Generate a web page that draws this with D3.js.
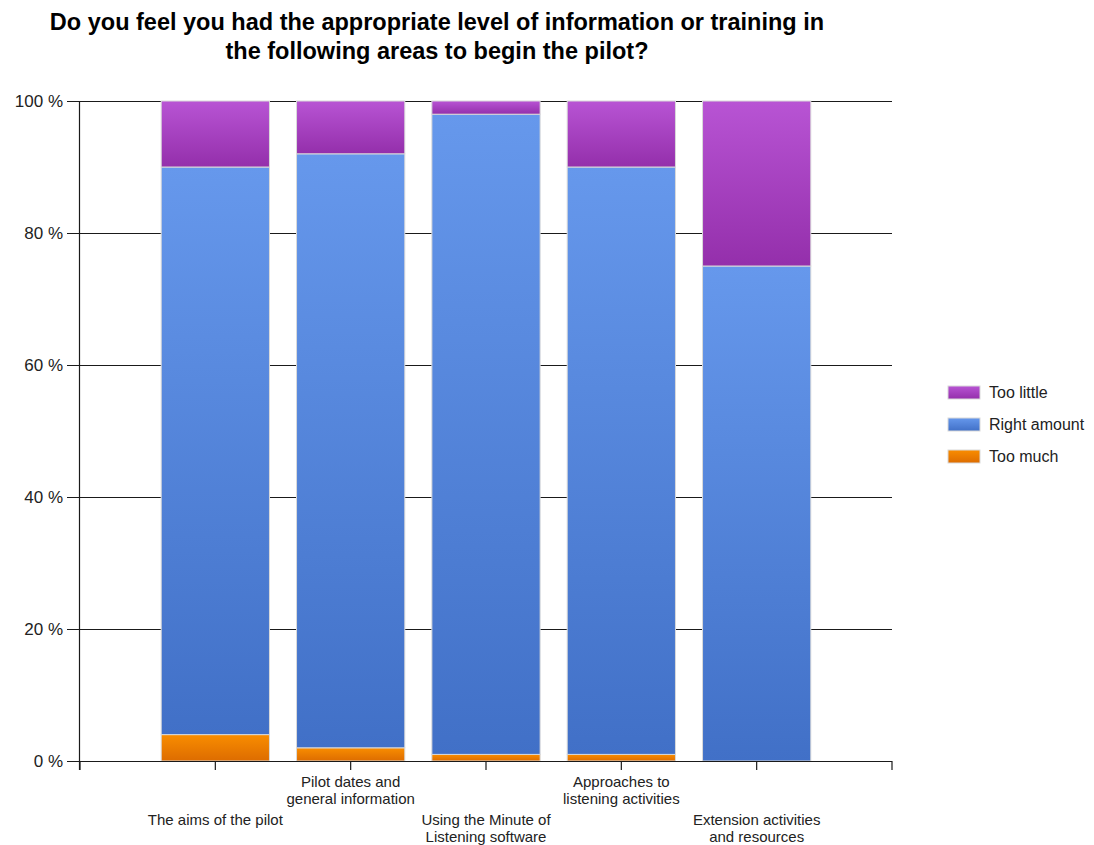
<!DOCTYPE html>
<html>
<head>
<meta charset="utf-8">
<script src="https://cdn.jsdelivr.net/npm/d3@7"></script>
<style>
  html, body { margin: 0; padding: 0; background: #fff; }
  svg { display: block; }
  text { font-family: "Liberation Sans", Arial, sans-serif; }
</style>
</head>
<body>
<svg id="chart" width="1094" height="845"></svg>
<script>
// Survey areas (x axis), in display order
const categories = [
  ["The aims of the pilot"],
  ["Pilot dates and", "general information"],
  ["Using the Minute of", "Listening software"],
  ["Approaches to", "listening activities"],
  ["Extension activities", "and resources"]
];
// Percentage of responses per answer, one value per area
const tooMuch     = [4, 2, 1, 1, 0];
const rightAmount = [86, 90, 97, 89, 75];
const tooLittle   = [10, 8, 2, 10, 25];

const seriesNames = ["Too much", "Right amount", "Too little"];
const yTicks = [0, 20, 40, 60, 80, 100];

const svg = d3.select("#chart");
const plotLeft = 80, plotRight = 892, plotTop = 101, plotBottom = 761;

// Categories sit at 1..n on a linear axis padded by one slot on each side
const x = d3.scaleLinear().domain([0, categories.length + 1]).range([plotLeft, plotRight]);
const y = d3.scaleLinear().domain([0, 100]).range([plotBottom, plotTop]);
const slot = x(1) - x(0);
const barW = slot * 0.8;

// Vertical gradients for each series
const defs = svg.append("defs");
const grads = {
  "Too much":     ["#f98d00", "#dd6c00"],
  "Right amount": ["#6698ec", "#4170c7"],
  "Too little":   ["#b854d4", "#942fab"]
};
const gradId = {};
seriesNames.forEach((s, i) => {
  const id = "g" + i;
  gradId[s] = id;
  const g = defs.append("linearGradient").attr("id", id)
    .attr("x1", 0).attr("y1", 0).attr("x2", 0).attr("y2", 1);
  g.append("stop").attr("offset", "0%").attr("stop-color", grads[s][0]);
  g.append("stop").attr("offset", "100%").attr("stop-color", grads[s][1]);
});

// Title
svg.append("text")
  .attr("text-anchor", "middle")
  .style("font-weight", "bold").style("font-size", "23.5px")
  .selectAll("tspan")
  .data(["Do you feel you had the appropriate level of information or training in",
         "the following areas to begin the pilot?"])
  .join("tspan")
  .attr("x", 437).attr("y", (d, i) => 30 + i * 28.5)
  .text(d => d);

// Horizontal gridlines with left ticks
svg.append("g").selectAll("line").data(yTicks).join("line")
  .attr("x1", plotLeft - 13).attr("x2", plotRight)
  .attr("y1", d => y(d) + 0.5).attr("y2", d => y(d) + 0.5)
  .attr("stroke", "#1a1a1a").attr("stroke-width", 1.2);

// Y tick labels
svg.append("g").selectAll("text").data(yTicks).join("text")
  .attr("x", plotLeft - 17).attr("y", d => y(d) + 6)
  .attr("text-anchor", "end")
  .style("font-size", "17px").attr("fill", "#222")
  .text(d => d + " %");

// Y axis line
svg.append("line")
  .attr("x1", plotLeft - 0.5).attr("x2", plotLeft - 0.5)
  .attr("y1", plotTop).attr("y2", plotBottom + 9)
  .attr("stroke", "#1a1a1a").attr("stroke-width", 1.2);

// X axis ticks
svg.append("g").selectAll("line").data(d3.range(0, categories.length + 2)).join("line")
  .attr("x1", d => x(d)).attr("x2", d => x(d))
  .attr("y1", plotBottom).attr("y2", plotBottom + 9)
  .attr("stroke", "#1a1a1a").attr("stroke-width", 1.2);

// Stacked bars
const table = categories.map((c, i) => ({
  i,
  "Too much": tooMuch[i],
  "Right amount": rightAmount[i],
  "Too little": tooLittle[i]
}));
const stacked = d3.stack().keys(seriesNames)(table);

const barG = svg.append("g");
stacked.forEach(layer => {
  barG.append("g").selectAll("rect")
    .data(layer.filter(d => d[1] - d[0] > 0))
    .join("rect")
    .attr("x", d => x(d.data.i + 1) - barW / 2)
    .attr("width", barW)
    .attr("y", d => y(d[1]))
    .attr("height", d => y(d[0]) - y(d[1]))
    .attr("fill", `url(#${gradId[layer.key]})`)
    .attr("stroke", "#d9d9d9").attr("stroke-width", 1);
});

// Baseline over the bars
svg.append("line")
  .attr("x1", plotLeft - 13).attr("x2", plotRight)
  .attr("y1", plotBottom + 0.5).attr("y2", plotBottom + 0.5)
  .attr("stroke", "#1a1a1a").attr("stroke-width", 1.2);

// Category labels, staggered on two rows
const labG = svg.append("g");
categories.forEach((lines, i) => {
  const cx = x(i + 1);
  const lower = i % 2 === 0;
  const y0 = lower ? 825 : 787;
  const t = labG.append("text")
    .attr("text-anchor", "middle")
    .style("font-size", "15px").attr("fill", "#222");
  lines.forEach((ln, k) => {
    t.append("tspan").attr("x", cx).attr("y", y0 + k * 16.5).text(ln);
  });
});

// Legend, top series first
const legendOrder = seriesNames.slice().reverse();
const leg = svg.append("g");
legendOrder.forEach((s, k) => {
  const ly = 386 + k * 32;
  leg.append("rect")
    .attr("x", 948).attr("y", ly).attr("width", 32).attr("height", 13)
    .attr("fill", `url(#${gradId[s]})`)
    .attr("stroke", "#d9d9d9");
  leg.append("text")
    .attr("x", 989).attr("y", ly + 12)
    .style("font-size", "16px").attr("fill", "#222")
    .text(s);
});
</script>
</body>
</html>
